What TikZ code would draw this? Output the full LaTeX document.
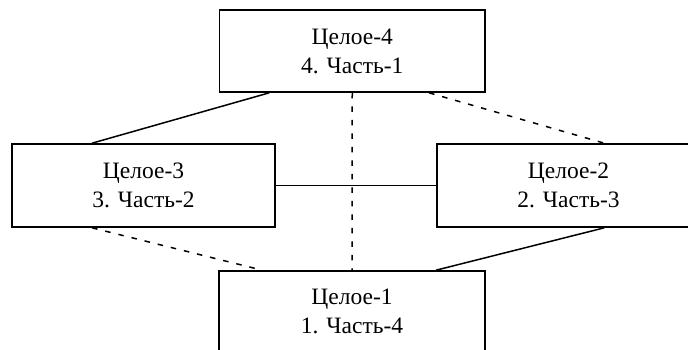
\documentclass[tikz,border=0pt]{standalone}
\usepackage{fontspec}
\setmainfont{Liberation Serif}
\newfontfamily\boxfont{Liberation Serif}
\begin{document}
\begin{tikzpicture}[x=1pt,y=-1pt,
  box/.style={draw,line width=1.7pt,inner sep=0pt,align=center,
    font=\boxfont\fontsize{23.5}{29}\selectfont},
  link/.style={line width=1.5pt},
  dlink/.style={line width=1.5pt,dash pattern=on 5.5pt off 8pt}]
\useasboundingbox (0,0) rectangle (688,349);
\clip (0,0) rectangle (688,349);
\fill[white] (0,0) rectangle (688,349);
\node[box,minimum width=265.5pt,minimum height=82pt] (top) at (352.25,51) {Целое-4\\4. Часть-1};
\node[box,minimum width=263pt,minimum height=83pt] (left) at (143.5,185.5) {Целое-3\\3. Часть-2};
\node[box,minimum width=263pt,minimum height=83pt] (right) at (568.5,185.5) {Целое-2\\2. Часть-3};
\node[box,minimum width=266pt,minimum height=80pt] (bot) at (352,311) {Целое-1\\1. Часть-4};
\draw[link] ([xshift=50.5pt]top.south west) -- ([xshift=81pt]left.north west);
\draw[dlink] ([xshift=210.5pt]top.south west) -- ([xshift=168pt]right.north west);
\draw[dlink] (top.south) -- (bot.north);
\draw[link] (left.east) -- (right.west);
\draw[dlink] ([xshift=81pt]left.south west) -- ([xshift=44pt]bot.north west);
\draw[link] ([xshift=168pt]right.south west) -- ([xshift=218pt]bot.north west);
\end{tikzpicture}
\end{document}
